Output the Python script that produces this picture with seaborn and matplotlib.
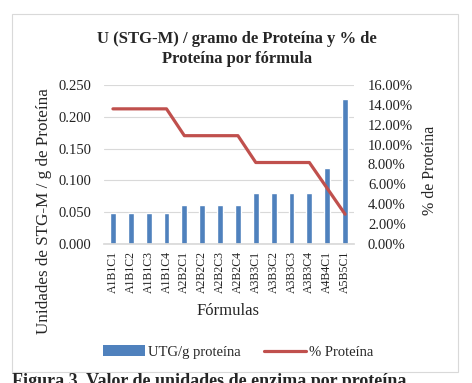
import matplotlib
matplotlib.use("Agg")
import matplotlib.pyplot as plt
import seaborn as sns
import pandas as pd
from matplotlib.patches import Rectangle, Patch
from matplotlib.lines import Line2D
from matplotlib.ticker import FuncFormatter

formulas = ["A1B1C1", "A1B1C2", "A1B1C3", "A1B1C4", "A2B2C1", "A2B2C2", "A2B2C3",
            "A2B2C4", "A3B3C1", "A3B3C2", "A3B3C3", "A3B3C4", "A4B4C1", "A5B5C1"]
utg_per_g = [0.049, 0.049, 0.049, 0.049, 0.061, 0.061, 0.061,
             0.061, 0.080, 0.080, 0.080, 0.080, 0.119, 0.228]
pct_protein = [13.6, 13.6, 13.6, 13.6, 10.9, 10.9, 10.9,
               10.9, 8.2, 8.2, 8.2, 8.2, 5.6, 3.0]
left_ticks = [0.0, 0.05, 0.10, 0.15, 0.20, 0.25]
right_ticks = [0, 2, 4, 6, 8, 10, 12, 14, 16]

df = pd.DataFrame({"formula": formulas, "utg": utg_per_g, "pct": pct_protein})

sns.set_theme(style="white")
plt.rcParams["font.family"] = ["Liberation Serif", "DejaVu Serif"]

bar_color = "#4F81BD"
line_color = "#C0504D"
W, H = 472, 383

fig = plt.figure(figsize=(4.72, 3.83), dpi=100)
fig.patch.set_facecolor("white")
fig.patches.append(Rectangle((12 / W, 1 - 372 / H), 446 / W, 358 / H,
                             transform=fig.transFigure, fill=False,
                             edgecolor="#D9D9D9", linewidth=0.8))

ax = fig.add_axes([104 / W, 1 - 244 / H, 250 / W, 159 / H])
sns.barplot(data=df, x="formula", y="utg", color=bar_color, width=0.33,
            saturation=1, ax=ax)
ax.set_ylim(0, 0.25)
ax.set_xlim(-0.5, len(formulas) - 0.5)
ax.set_yticks(left_ticks)
ax.yaxis.set_major_formatter(FuncFormatter(lambda v, _: f"{v:.3f}"))
ax.grid(axis="y", color="#D9D9D9", linewidth=0.8)
ax.set_axisbelow(True)
for side in ["top", "left", "right"]:
    ax.spines[side].set_visible(False)
ax.spines["bottom"].set_color("#D9D9D9")
ax.tick_params(axis="y", length=0, labelsize=10.5, colors="#222222", pad=9)
ax.tick_params(axis="x", length=0, labelrotation=90, labelsize=8.5,
               colors="#222222", pad=5)
ax.set_xlabel("Fórmulas", fontsize=12)
ax.xaxis.set_label_coords(228 / W, 1 - 303 / H, transform=fig.transFigure)
ax.set_ylabel("Unidades de STG-M / g de Proteína", fontsize=12.3)
ax.yaxis.set_label_coords(52 / W, 1 - 211 / H, transform=fig.transFigure)

ax2 = ax.twinx()
sns.lineplot(x=list(range(len(formulas))), y=pct_protein, color=line_color,
             linewidth=2.3, ax=ax2)
ax2.set_ylim(0, 16)
ax2.set_yticks(right_ticks)
ax2.yaxis.set_major_formatter(FuncFormatter(lambda v, _: f"{v:.2f}%"))
for side in ["top", "left", "right", "bottom"]:
    ax2.spines[side].set_visible(False)
ax2.tick_params(axis="y", length=0, labelsize=10.5, colors="#222222", pad=10)
ax2.set_ylabel("% de Proteína", fontsize=11.5)
ax2.yaxis.set_label_coords(422 / W, 1 - 170 / H, transform=fig.transFigure)

fig.text(237 / W, 1 - 49 / H,
         "U (STG-M) / gramo de Proteína y % de\nProteína por fórmula",
         ha="center", va="center", fontsize=12, fontweight="bold",
         linespacing=1.35)

handles = [Patch(facecolor=bar_color, edgecolor="none"),
           Line2D([0], [0], color=line_color, linewidth=2.3)]
fig.legend(handles, ["UTG/g proteína", "% Proteína"], loc="center",
           bbox_to_anchor=(238 / W, 1 - 352 / H), ncol=2, frameon=False,
           fontsize=10.5, handlelength=2.9, columnspacing=1.6, handletextpad=0.2)

fig.text(12 / W, 1 - 390 / H,
         "Figura 3. Valor de unidades de enzima por proteína",
         ha="left", va="bottom", fontsize=13, fontweight="bold")

fig.savefig("out.png", dpi=100)
